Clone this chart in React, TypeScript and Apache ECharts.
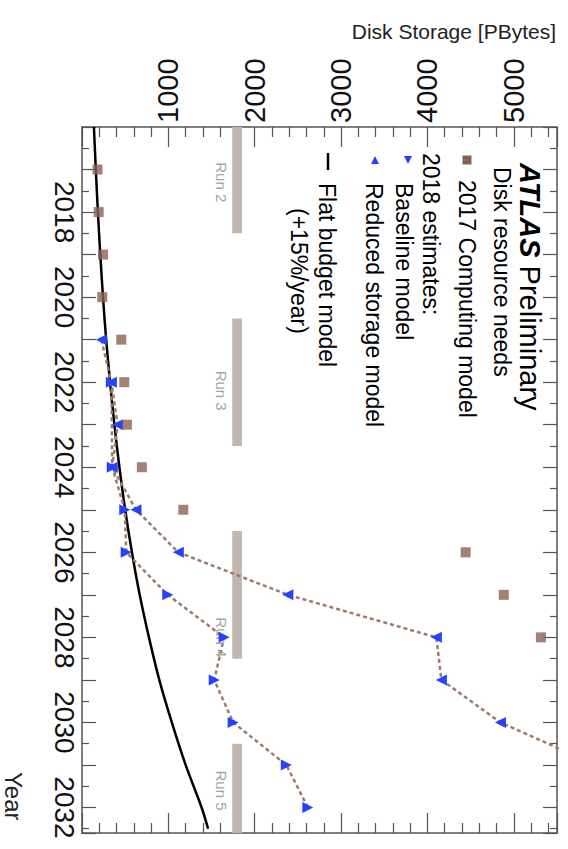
import React, { useEffect, useRef } from 'react';
import * as echarts from 'echarts';

// ---- Data ----
const computingYears = [2017, 2018, 2019, 2020, 2021, 2022, 2023, 2024, 2025, 2026, 2027, 2028];
const computingValues = [180, 193, 243, 235, 455, 489, 520, 693, 1173, 4442, 4884, 5314];

const baselineYears = [2021, 2022, 2023, 2024, 2025, 2026, 2027, 2028, 2029, 2030, 2031];
const baselineValues = [224, 340, 412, 350, 625, 1115, 2384, 4103, 4161, 4845, 5950];

const reducedYears = [2022, 2024, 2025, 2026, 2027, 2028, 2029, 2030, 2031, 2032];
const reducedValues = [340, 350, 495, 512, 993, 1646, 1531, 1750, 2366, 2615];

const flatYears = [2016, 2017, 2018, 2019, 2020, 2021, 2022, 2023, 2024, 2025, 2026, 2027, 2028, 2029, 2030, 2031, 2032, 2032.5];
const flatValues = [138, 160, 184, 212, 243, 280, 325, 375, 433, 500, 578, 668, 775, 895, 1040, 1200, 1385, 1460];

const runNames = ['Run 2', 'Run 3', 'Run 4', 'Run 5'];
const runStarts = [2016, 2020.5, 2025.5, 2030.5];
const runEnds = [2018.5, 2023.5, 2028.5, 2032.6];
const runLabelYears = [2017.3, 2022.2, 2028.0, 2031.6];
const runBandRange = [1740, 1852];
const runLabelValue = 1620;

const storageTicks = [1000, 2000, 3000, 4000, 5000];
const yearTickLabels = [2018, 2020, 2022, 2024, 2026, 2028, 2030, 2032];

const FONT = '"Liberation Sans", Arial, Helvetica, sans-serif';
const AXIS_COLOR = '#555';
const BROWN = '#8a6352';
const BLUE = '#2442ff';
const DOT = '#9c7c6a';
const BAND = '#c2b7ae';

const R = -Math.PI / 2;

export default function App() {
  const ref = useRef<HTMLDivElement>(null);

  useEffect(() => {
    if (!ref.current) return;
    const chart = echarts.init(ref.current, undefined, { renderer: 'svg' });

    const valueAxisBase = (pos: 'top' | 'bottom', labels: boolean) => ({
      type: 'value',
      position: pos,
      min: 0,
      max: 5500,
      interval: 1000,
      axisLine: { show: true, onZero: false, lineStyle: { color: AXIS_COLOR, width: 1.5 } },
      axisTick: { show: true, inside: true, length: 20, lineStyle: { color: AXIS_COLOR, width: 1.2 } },
      minorTick: { show: true, splitNumber: 5, length: 10, lineStyle: { color: AXIS_COLOR, width: 1.2 } },
      splitLine: { show: false },
      axisLabel: {
        show: labels,
        rotate: -90,
        margin: 4,
        fontSize: 29,
        color: '#111',
        fontFamily: FONT,
        formatter: (v: number) => (storageTicks.indexOf(v) >= 0 ? String(v) : ''),
      },
    });

    const yearAxisBase = (pos: 'left' | 'right', labels: boolean) => ({
      type: 'value',
      position: pos,
      inverse: true,
      min: 2016,
      max: 2032.6,
      interval: 1,
      axisLine: { show: true, onZero: false, lineStyle: { color: AXIS_COLOR, width: 1.5 } },
      axisTick: { show: true, inside: true, length: 14, lineStyle: { color: AXIS_COLOR, width: 1.2 } },
      minorTick: { show: true, splitNumber: 2, length: 7, lineStyle: { color: AXIS_COLOR, width: 1.2 } },
      splitLine: { show: false },
      axisLabel: {
        show: labels,
        rotate: -90,
        margin: 4,
        fontSize: 28,
        color: '#111',
        fontFamily: FONT,
        formatter: (v: number) => (yearTickLabels.indexOf(v) >= 0 ? String(v) : ''),
      },
    });

    const triangleLine = (name: string, years: number[], values: number[], rot: number) => ({
      name,
      type: 'line',
      xAxisIndex: 0,
      yAxisIndex: 0,
      data: years.map((y, i) => [values[i], y]),
      symbol: 'triangle',
      symbolSize: 11,
      symbolRotate: rot,
      showAllSymbol: true,
      itemStyle: { color: BLUE },
      lineStyle: { color: DOT, width: 2.5, type: [4, 3] },
      clip: true,
      z: 4,
    });

    const option: any = {
      animation: false,
      backgroundColor: '#fff',
      grid: { left: 82, top: 127, right: 11, bottom: 16, containLabel: false, outerBoundsMode: 'none' },
      xAxis: [valueAxisBase('top', true), valueAxisBase('bottom', false)],
      yAxis: [yearAxisBase('left', true), yearAxisBase('right', false)],
      series: [
        {
          name: 'runs',
          type: 'scatter',
          xAxisIndex: 0,
          yAxisIndex: 0,
          data: runNames.map((n, i) => [runLabelValue, runLabelYears[i], n]),
          symbolSize: 0,
          label: {
            show: true,
            position: 'inside',
            rotate: -90,
            formatter: (p: any) => p.data[2],
            fontSize: 15,
            color: '#8a8a8a',
            fontFamily: FONT,
          },
          markArea: {
            silent: true,
            itemStyle: { color: BAND },
            data: runNames.map((_, i) => [
              { xAxis: runBandRange[0], yAxis: runStarts[i] },
              { xAxis: runBandRange[1], yAxis: runEnds[i] },
            ]),
          },
          z: 1,
        },
        {
          name: 'Flat budget model',
          type: 'line',
          xAxisIndex: 0,
          yAxisIndex: 0,
          data: flatYears.map((y, i) => [flatValues[i], y]),
          smooth: 0.3,
          showSymbol: false,
          lineStyle: { color: '#000', width: 2.5 },
          z: 3,
        },
        triangleLine('Baseline model', baselineYears, baselineValues, 90),
        triangleLine('Reduced storage model', reducedYears, reducedValues, -90),
        {
          name: '2017 Computing model',
          type: 'scatter',
          xAxisIndex: 0,
          yAxisIndex: 0,
          data: computingYears.map((y, i) => [computingValues[i], y]),
          symbol: 'rect',
          symbolSize: 10,
          itemStyle: { color: BROWN },
          z: 5,
        },
      ],
      graphic: [
        {
          type: 'text', x: 556, y: 31,
          style: { text: 'Disk Storage [PBytes]', fontSize: 21, fontFamily: FONT, fill: '#222', align: 'right', verticalAlign: 'middle' },
        },
        {
          type: 'text', x: 13, y: 772, rotation: R,
          style: { text: 'Year', fontSize: 24, fontFamily: FONT, fill: '#222', align: 'left', verticalAlign: 'middle' },
        },
        {
          type: 'text', x: 530, y: 163, rotation: R,
          style: {
            text: '{a|ATLAS}{b| Preliminary}',
            align: 'left', verticalAlign: 'middle', fill: '#000',
            rich: {
              a: { fontSize: 29, fontWeight: 'bold', fontStyle: 'italic', fontFamily: FONT, fill: '#000' },
              b: { fontSize: 29, fontFamily: FONT, fill: '#000' },
            },
          },
        },
        {
          type: 'text', x: 502, y: 167, rotation: R,
          style: { text: 'Disk resource needs', fontSize: 23, fontFamily: FONT, fill: '#000', align: 'left', verticalAlign: 'middle' },
        },
        {
          type: 'rect', shape: { x: 462.5, y: 155.5, width: 9, height: 9 }, style: { fill: BROWN },
        },
        {
          type: 'text', x: 467, y: 180, rotation: R,
          style: { text: '2017 Computing model', fontSize: 23, fontFamily: FONT, fill: '#000', align: 'left', verticalAlign: 'middle' },
        },
        {
          type: 'text', x: 431, y: 153, rotation: R,
          style: { text: '2018 estimates:', fontSize: 23, fontFamily: FONT, fill: '#000', align: 'left', verticalAlign: 'middle' },
        },
        {
          type: 'polygon', shape: { points: [[404, 156], [412, 156], [408, 164]] }, style: { fill: BLUE },
        },
        {
          type: 'text', x: 404, y: 183, rotation: R,
          style: { text: 'Baseline model', fontSize: 23, fontFamily: FONT, fill: '#000', align: 'left', verticalAlign: 'middle' },
        },
        {
          type: 'polygon', shape: { points: [[371, 164], [379, 164], [375, 156]] }, style: { fill: BLUE },
        },
        {
          type: 'text', x: 374, y: 183, rotation: R,
          style: { text: 'Reduced storage model', fontSize: 23, fontFamily: FONT, fill: '#000', align: 'left', verticalAlign: 'middle' },
        },
        {
          type: 'line', shape: { x1: 328, y1: 153, x2: 328, y2: 170 }, style: { stroke: '#000', lineWidth: 2.5 },
        },
        {
          type: 'text', x: 327, y: 183, rotation: R,
          style: { text: 'Flat budget model', fontSize: 23, fontFamily: FONT, fill: '#000', align: 'left', verticalAlign: 'middle' },
        },
        {
          type: 'text', x: 299, y: 208, rotation: R,
          style: { text: '(+15%/year)', fontSize: 23, fontFamily: FONT, fill: '#000', align: 'left', verticalAlign: 'middle' },
        },
      ],
    };

    chart.setOption(option);
    return () => chart.dispose();
  }, []);

  return (
    <div
      ref={ref}
      style={{ position: 'fixed', left: 0, top: 0, width: 568, height: 849, background: '#fff' }}
    />
  );
}
